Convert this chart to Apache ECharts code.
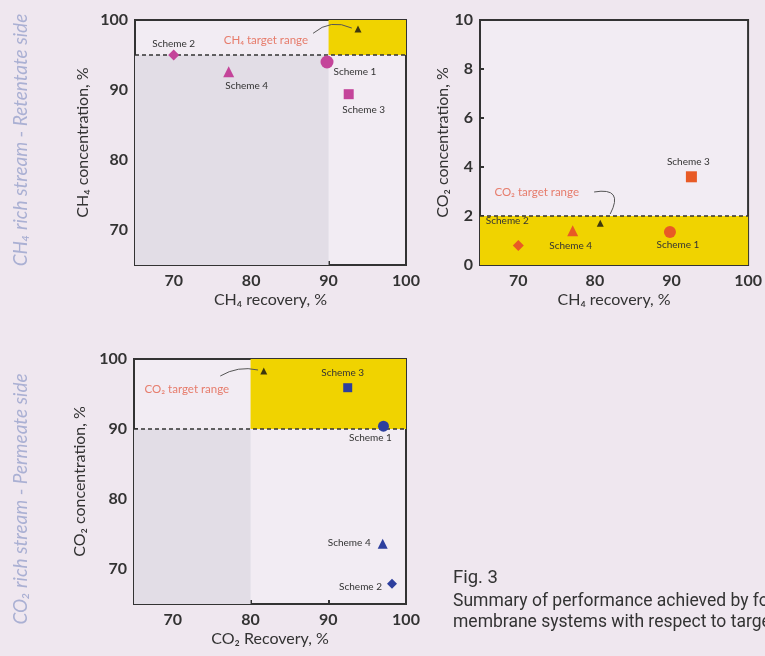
<!DOCTYPE html>
<html>
<head>
<meta charset="utf-8">
<script src="https://cdn.jsdelivr.net/npm/echarts@6/dist/echarts.min.js"></script>
<style>
html,body{margin:0;padding:0;background:#efe7ef;}
#chart{width:765px;height:656px;}
</style>
</head>
<body>
<div id="chart"></div>
<script>
// ---- data ----
const schemes = ['Scheme 1', 'Scheme 2', 'Scheme 3', 'Scheme 4'];
// Panel A: CH4-rich stream (retentate)
const ch4Recovery = [89.8, 70.0, 92.6, 77.1];
const ch4Concentration = [94.0, 95.0, 89.4, 92.6];
// Panel B: CO2 in retentate vs CH4 recovery
const co2Retentate = [1.35, 0.8, 3.6, 1.4];
// Panel C: CO2-rich stream (permeate)
const co2Recovery = [97.1, 98.2, 92.5, 97.0];
const co2Permeate = [90.4, 67.9, 95.9, 73.6];
// target markers (black triangles)
const targetA = [93.8, 98.7];
const targetB = [80.7, 1.7];
const targetC = [81.7, 98.3];
// target thresholds
const ch4ConcTarget = 95, ch4RecTarget = 90;
const co2RetTarget = 2;
const co2PermTarget = 90, co2RecTarget = 80;
// tick labels
const recoveryTicks = [70, 80, 90, 100];
const concTicks = [70, 80, 90, 100];
const co2RetTicks = [0, 2, 4, 6, 8, 10];

// ---- styling ----
const FONT = 'Lato';
const DARK = '#333333';
const YELLOW = '#f0d300';
const GREY = '#e2dde6';
const TXTRED = '#e4604a';
const PLOTBG = '#f2ecf3';
const SYM = ['circle', 'diamond', 'rect', 'triangle'];

function xAxis(grid, name, ticks, min, max) {
  return {
    gridIndex: grid, type: 'value', min: min, max: max,
    axisLine: {show: true, onZero: false, lineStyle: {color: DARK, width: 2}},
    axisTick: {show: true, inside: true, length: 4, customValues: ticks, lineStyle: {color: DARK, width: 2}},
    axisLabel: {customValues: ticks, fontFamily: FONT, fontWeight: 'bold', fontSize: 16, color: DARK, margin: 8},
    splitLine: {show: false},
    name: name, nameLocation: 'middle', nameGap: 27,
    nameTextStyle: {fontFamily: FONT, fontSize: 16, color: DARK}
  };
}
function yAxis(grid, name, ticks, min, max, gap) {
  return {
    gridIndex: grid, type: 'value', min: min, max: max,
    axisLine: {show: true, onZero: false, lineStyle: {color: DARK, width: 2}},
    axisTick: {show: true, inside: true, length: 4, customValues: ticks, lineStyle: {color: DARK, width: 2}},
    axisLabel: {customValues: ticks, fontFamily: FONT, fontWeight: 'bold', fontSize: 16, color: DARK, margin: 7},
    splitLine: {show: false},
    name: name, nameLocation: 'middle', nameGap: gap,
    nameTextStyle: {fontFamily: FONT, fontSize: 16, color: DARK}
  };
}

function schemeData(xs, ys, sizes, labels) {
  return schemes.map((s, i) => ({
    name: s, value: [xs[i], ys[i]], symbol: SYM[i], symbolSize: sizes[i],
    label: Object.assign({show: true, formatter: '{b}', fontFamily: FONT, fontSize: 10, color: DARK, distance: 5}, labels[i])
  }));
}

function panel(idx, color, xs, ys, sizes, labels, target, areas, threshold, annot, arrow) {
  const main = {
    type: 'scatter', xAxisIndex: idx, yAxisIndex: idx, z: 5,
    itemStyle: {color: color, opacity: 1},
    data: schemeData(xs, ys, sizes, labels),
    markArea: {silent: true, data: areas},
    markLine: {
      silent: true, symbol: ['none', 'none'], label: {show: false},
      lineStyle: {color: DARK, type: [4, 3], width: 1.5},
      data: [{yAxis: threshold}]
    }
  };
  const arrowLine = {
    type: 'lines', coordinateSystem: 'cartesian2d', xAxisIndex: idx, yAxisIndex: idx, z: 4,
    symbol: ['none', 'none'], silent: true,
    lineStyle: {color: '#555', width: 1, opacity: 1, curveness: arrow[2]},
    data: [{coords: [arrow[0], arrow[1]]}]
  };
  const tgt = {
    type: 'scatter', xAxisIndex: idx, yAxisIndex: idx, z: 6,
    symbol: 'triangle', symbolSize: 7, itemStyle: {color: '#111'},
    data: [target]
  };
  const txt = {
    type: 'scatter', xAxisIndex: idx, yAxisIndex: idx, z: 6,
    symbolSize: 0,
    data: [{name: annot[0], value: annot[1]}],
    label: {show: true, position: 'inside', formatter: '{b}', fontFamily: FONT, fontSize: 11.5, color: TXTRED}
  };
  return [main, arrowLine, tgt, txt];
}

const series = [].concat(
  panel(0, '#c4449a', ch4Recovery, ch4Concentration, [13, 11, 10, 11],
    [{position: 'right', offset: [-5, 10]}, {position: 'top', offset: [0, 4]},
     {position: 'bottom', offset: [15, 1]}, {position: 'bottom', offset: [18, -2]}],
    targetA,
    [[{xAxis: ch4RecTarget, yAxis: ch4ConcTarget, itemStyle: {color: YELLOW}}, {xAxis: 100, yAxis: 100}],
     [{xAxis: 65, yAxis: 65, itemStyle: {color: GREY}}, {xAxis: ch4RecTarget, yAxis: ch4ConcTarget}]],
    ch4ConcTarget, ['CH\u2084 target range', [81.9, 97.1]],
    [[88.0, 98.1], [93.0, 98.85], 0.32]),
  panel(1, '#e85a25', ch4Recovery, co2Retentate, [12, 11, 11, 11],
    [{position: 'bottom', offset: [8, -3]}, {position: 'top', offset: [-11, -9]},
     {position: 'top', offset: [-3, 0]}, {position: 'bottom', offset: [-2, 0]}],
    targetB,
    [[{xAxis: 65, yAxis: 0, itemStyle: {color: YELLOW}}, {xAxis: 100, yAxis: co2RetTarget}]],
    co2RetTarget, ['CO\u2082 target range', [72.4, 2.98]],
    [[79.9, 2.98], [82.0, 2.08], 1.0]),
  panel(2, '#2d3f9e', co2Recovery, co2Permeate, [11, 10, 9, 10],
    [{position: 'bottom', offset: [-13, -4]}, {position: 'left', offset: [0, 3]},
     {position: 'top', offset: [-5, 0]}, {position: 'left', offset: [-2, -1]}],
    targetC,
    [[{xAxis: co2RecTarget, yAxis: co2PermTarget, itemStyle: {color: YELLOW}}, {xAxis: 100, yAxis: 100}],
     [{xAxis: 65, yAxis: 65, itemStyle: {color: GREY}}, {xAxis: co2RecTarget, yAxis: co2PermTarget}]],
    co2PermTarget, ['CO\u2082 target range', [71.8, 95.7]],
    [[76.1, 97.57], [80.96, 98.43], 0.2])
);

const chart = echarts.init(document.getElementById('chart'), null, {renderer: 'canvas'});
chart.setOption({
  animation: false,
  backgroundColor: '#efe7ef',
  grid: [
    {left: 135, top: 20, width: 271, height: 245, show: true, borderColor: DARK, borderWidth: 2, backgroundColor: PLOTBG},
    {left: 480, top: 20, width: 270, height: 245, show: true, borderColor: DARK, borderWidth: 2, backgroundColor: PLOTBG},
    {left: 134, top: 359, width: 272, height: 245, show: true, borderColor: DARK, borderWidth: 2, backgroundColor: PLOTBG}
  ],
  xAxis: [
    xAxis(0, 'CH\u2084 recovery, %', recoveryTicks, 65, 100),
    xAxis(1, 'CH\u2084 recovery, %', recoveryTicks, 65, 100),
    xAxis(2, 'CO\u2082 Recovery, %', recoveryTicks, 65, 100)
  ],
  yAxis: [
    yAxis(0, 'CH\u2084 concentration, %', concTicks, 65, 100, 44),
    yAxis(1, 'CO\u2082 concentration, %', co2RetTicks, 0, 10, 29),
    yAxis(2, 'CO\u2082 concentration, %', concTicks, 65, 100, 46)
  ],
  series: series,
  graphic: [
    {type: 'text', x: 21, y: 140, rotation: Math.PI / 2,
     style: {text: 'CH\u2084 rich stream - Retentate side', fontFamily: FONT, fontStyle: 'italic', fontSize: 19, fill: '#aab0d3', align: 'center', verticalAlign: 'middle'}},
    {type: 'text', x: 21, y: 499, rotation: Math.PI / 2,
     style: {text: 'CO\u2082 rich stream - Permeate side', fontFamily: FONT, fontStyle: 'italic', fontSize: 19, fill: '#aab0d3', align: 'center', verticalAlign: 'middle'}},
    {type: 'text', x: 453, y: 578,
     style: {text: 'Fig. 3', fontFamily: 'Roboto', fontSize: 18.5, fill: '#333', align: 'left', verticalAlign: 'middle'}},
    {type: 'text', x: 453, y: 602,
     style: {text: 'Summary of performance achieved by fo', fontFamily: 'Roboto', fontSize: 17.5, fill: '#333', align: 'left', verticalAlign: 'middle'}},
    {type: 'text', x: 453, y: 623,
     style: {text: 'membrane systems with respect to targe', fontFamily: 'Roboto', fontSize: 17.5, fill: '#333', align: 'left', verticalAlign: 'middle'}}
  ]
});
</script>
</body>
</html>
